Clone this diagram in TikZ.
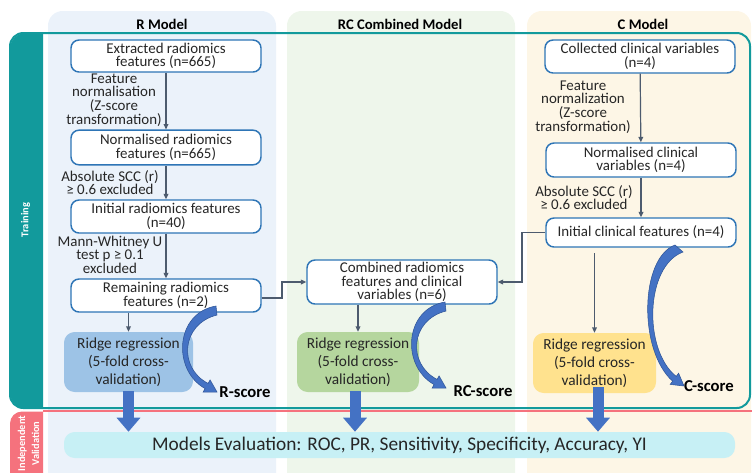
\documentclass[tikz,border=0pt]{standalone}
\usepackage{fontspec}
\setmainfont{Carlito}
\usetikzlibrary{arrows.meta}
\definecolor{tealc}{HTML}{129A9C}
\definecolor{pinkc}{HTML}{F5727D}
\definecolor{boxblue}{HTML}{2E75B6}
\definecolor{connc}{HTML}{4D5B6E}
\definecolor{blockc}{HTML}{4472C4}
\definecolor{blockdark}{HTML}{2F5597}
\definecolor{panelR}{HTML}{EBF2FA}
\definecolor{panelRC}{HTML}{EEF6EB}
\definecolor{panelC}{HTML}{FDF6E6}
\definecolor{ridgeR}{HTML}{9DC3E6}
\definecolor{ridgeRC}{HTML}{B5D69E}
\definecolor{ridgeC}{HTML}{FFE28E}
\definecolor{evalc}{HTML}{C7F0F5}
\definecolor{txt}{HTML}{262626}
\newcommand\boxfnt{\fontsize{11.2}{10.2}\selectfont\lineskiplimit=-20pt\relax}
\newcommand\ridgefnt{\fontsize{11.5}{13.5}\selectfont\lineskiplimit=-20pt\relax}
\newcommand\scorefnt{\bfseries\fontsize{12.5}{14}\selectfont}
\tikzset{
  box/.style={draw=boxblue, line width=1.1pt, fill=white, rounded corners=6pt,
    align=center, inner sep=0pt, font=\boxfnt, text=txt, minimum width=142.5pt},
  ridge/.style={rounded corners=8pt, align=center, inner sep=0pt, font=\ridgefnt, text=txt},
  lbl/.style={align=center, font=\boxfnt, inner sep=0pt, text=txt},
  conn/.style={draw=connc, line width=0.9pt, -{Triangle[length=4pt,width=3.5pt]}},
  blockarrow/.style={draw=blockc, line width=8.25pt, -{Triangle[length=10.5pt,width=17.25pt]}},
  ribbon/.style={fill=blockc, draw=blockdark, line width=0.4pt},
  score/.style={font=\scorefnt, inner sep=0pt, text=black},
  title/.style={font=\bfseries\fontsize{11}{12}\selectfont, inner sep=0pt, text=black}
}
\begin{document}
\begin{tikzpicture}[x=0.75pt,y=-0.75pt]
\useasboundingbox (0,0) rectangle (752,472);
\clip (0,0) rectangle (752,472);
% panels
\fill[panelR, rounded corners=11pt] (48,11) rectangle (276,500);
\fill[panelRC, rounded corners=11pt] (287,11) rectangle (515,500);
\fill[panelC, rounded corners=11pt] (527,11) rectangle (751,500);
\node[title] (tR) at (162,24) {R Model};
\node[title] (tRC) at (400,24) {RC Combined Model};
\node[title] (tC) at (643,24) {C Model};
% training frame
\draw[tealc, line width=1.5pt, rounded corners=10pt] (10,33) rectangle (750,408);
\begin{scope}
\clip (9,30) rectangle (43,410);
\fill[tealc, rounded corners=12pt] (10,33) rectangle (80,408.5);
\end{scope}
\node[rotate=90, text=white, font=\bfseries\fontsize{7.8}{8}\selectfont, inner sep=0pt] (ttrain) at (25.5,220) {Training};
% validation
\draw[pinkc, line width=1.2pt] (43,410.8) -- (752,410.8);
\begin{scope}
\clip (9,411) rectangle (43,473);
\fill[pinkc, rounded corners=9pt] (10,411.5) rectangle (80,500);
\end{scope}
\node[rotate=90, text=white, align=center, font=\bfseries\fontsize{7.8}{10.5}\selectfont, inner sep=0pt] (tval) at (28.5,443.5) {Independent\\Validation};
% R column
\node[box, minimum height=24pt] (ext) at (166,56) {Extracted radiomics\\features (n=665)};
\node[box, minimum height=26pt] (norm) at (166,147.5) {Normalised radiomics\\features (n=665)};
\node[box, minimum height=24.75pt] (init) at (166,216.5) {Initial radiomics features\\(n=40)};
\node[box, minimum height=24.75pt] (rem) at (166,295.5) {Remaining radiomics\\features (n=2)};
\node[ridge, fill=ridgeR, minimum width=96.75pt, minimum height=45pt] (ridR) at (128.5,362) {Ridge regression\\(5-fold cross-\\validation)};
\node[lbl] (l1) at (114,100) {Feature\\normalisation\\(Z-score\\transformation)};
\node[lbl] (l2) at (110,182.5) {Absolute SCC (r)\\≥ 0.6 excluded};
\node[lbl] (l3) at (110,254.5) {Mann-Whitney U\\test p ≥ 0.1\\excluded};
\draw[conn] (ext) -- (norm);
\draw[conn] (norm) -- (init);
\draw[conn] (init) -- (rem);
\draw[conn] (ridR.north |- rem.south) -- (ridR.north);
% RC column
\node[box, minimum height=33pt] (comb) at (402,282) {Combined radiomics\\features and clinical\\variables (n=6)};
\node[ridge, fill=ridgeRC, minimum width=91.5pt, minimum height=45pt] (ridRC) at (358,362) {Ridge regression\\(5-fold cross-\\validation)};
\draw[conn] (ridRC.north |- comb.south) -- (ridRC.north);
% C column
\node[box, minimum height=24.75pt] (coll) at (640,56.5) {Collected clinical variables\\(n=4)};
\node[box, minimum height=25.5pt] (normC) at (641,160) {Normalised clinical\\variables (n=4)};
\node[box, minimum height=21.75pt] (initC) at (641,232.5) {Initial clinical features (n=4)};
\node[ridge, fill=ridgeC, minimum width=92.25pt, minimum height=45pt] (ridC) at (594.5,363) {Ridge regression\\(5-fold cross-\\validation)};
\node[lbl] (l4) at (583,107) {Feature\\normalization\\(Z-score\\transformation)};
\node[lbl] (l5) at (584,197.5) {Absolute SCC (r)\\≥ 0.6 excluded};
\draw[conn] (coll) -- (normC);
\draw[conn] (normC) -- (initC);
\draw[conn, shorten <=4pt] (ridC.north |- initC.south) -- (ridC.north);
% cross connectors
\draw[conn] (rem.east |- 0,298) -- (282,298) |- (comb.west);
\draw[conn] (initC.west) -- (522,232.5) |- (comb.east);
% evaluation
\node[fill=evalc, rounded corners=8pt, minimum width=503.25pt, minimum height=19.5pt, inner sep=0pt,
  font=\fontsize{14.5}{16}\selectfont, text=txt] (eval) at (399.5,445) {Models Evaluation: ROC, PR, Sensitivity, Specificity, Accuracy, YI};
\draw[blockarrow] (ridR.south) ++(0,-1) coordinate (bR) -- (bR |- eval.north);
\draw[blockarrow] (ridRC.south) ++(-3,-1) coordinate (bRC) -- (bRC |- eval.north);
\draw[blockarrow] (ridC.south) ++(3.5,-6) coordinate (bC) -- (bC |- eval.north);
% scores
\node[score] (sR) at (245,392) {R-score};
\node[score] (sRC) at (483,391) {RC-score};
\node[score] (sC) at (709,386) {C-score};
% ribbons
\path[ribbon] (216,306) .. controls (175,313) and (172,370) .. (205.1,388.6) -- (203.1,392.1) -- (217,392) -- (210.1,379.9) -- (208.1,383.4) .. controls (178,368) and (181,324) .. (217,315) -- cycle;
\begin{scope}[shift={(229,-4)}]
\path[ribbon] (216,306) .. controls (175,313) and (172,370) .. (205.1,388.6) -- (203.1,392.1) -- (217,392) -- (210.1,379.9) -- (208.1,383.4) .. controls (178,368) and (181,324) .. (217,315) -- cycle;
\end{scope}
\path[ribbon] (675,245) .. controls (640,258) and (638,350) .. (672.6,381.2) -- (670.2,384.4) -- (684,386) -- (678.6,373.2) -- (676.2,376.4) .. controls (643,350) and (645,266) .. (683,252) -- cycle;
\end{tikzpicture}
\end{document}
